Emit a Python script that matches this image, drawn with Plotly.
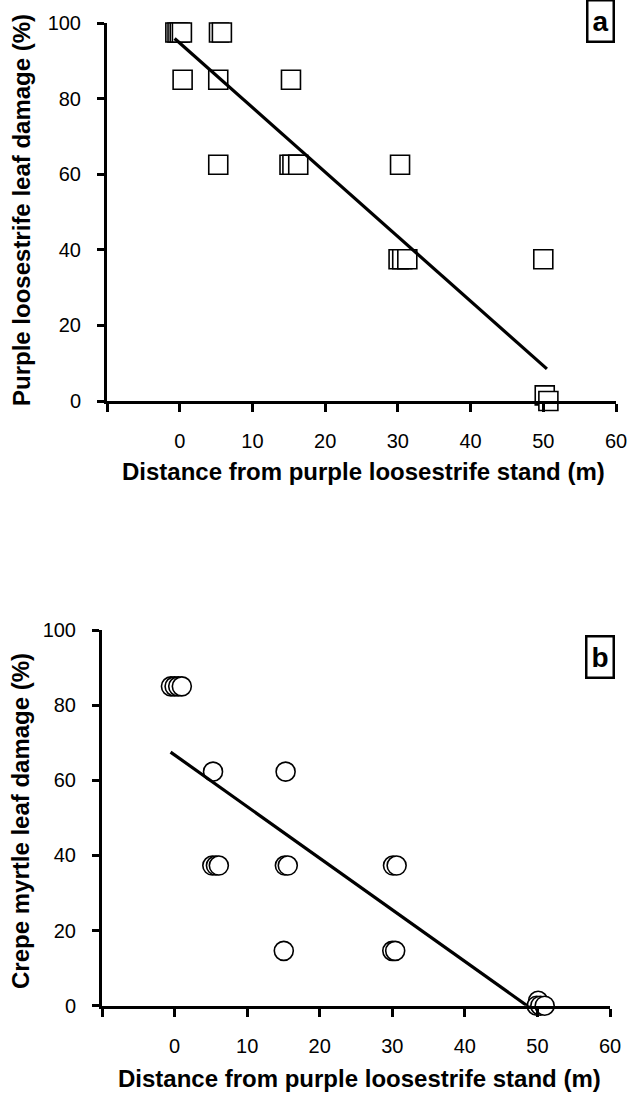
import plotly.graph_objects as go

# ---------------- data: panel a (purple loosestrife) ----------------
a_x = [-0.6, -0.3, 0.0, 0.3, 5.4, 5.8,
       0.4, 5.3, 15.3,
       5.3, 15.1, 15.5, 16.3, 30.3,
       30.1, 30.6, 31.3, 50.0,
       50.2, 50.7]
a_y = [97.5, 97.5, 97.5, 97.5, 97.5, 97.5,
       85, 85, 85,
       62.5, 62.5, 62.5, 62.5, 62.5,
       37.5, 37.5, 37.5, 37.5,
       1.5, 0.0]
a_fit_x = [-0.7, 50.5]
a_fit_y = [95.9, 8.5]

# ---------------- data: panel b (crepe myrtle) ----------------
b_x = [-0.5, 0.0, 0.5, 1.0,
       5.3, 15.3,
       5.2, 5.7, 6.1, 15.2, 15.6, 30.1, 30.6,
       15.05, 30.0, 30.4,
       50.1, 49.9, 50.4, 51.0]
b_y = [85, 85, 85, 85,
       62.3, 62.3,
       37.3, 37.3, 37.3, 37.3, 37.3, 37.3, 37.3,
       14.6, 14.6, 14.6,
       1.3, 0.0, 0.0, 0.0]
b_fit_x = [-0.55, 49.3]
b_fit_y = [67.5, -1.0]

x_ticks = [-10, 0, 10, 20, 30, 40, 50, 60]
x_ticktext = ["", "0", "10", "20", "30", "40", "50", "60"]
y_ticks = [0, 20, 40, 60, 80, 100]

a_ytitle = "Purple loosestrife leaf damage (%)"
b_ytitle = "Crepe myrtle leaf damage (%)"
xtitle = "Distance from purple loosestrife stand (m)"

W, H = 642, 1099
FONT = "Liberation Sans, Arial, sans-serif"

fig = go.Figure()

fig.add_trace(go.Scatter(x=a_x, y=a_y, mode="markers", cliponaxis=False,
                         marker=dict(symbol="square", size=19, color="white",
                                     line=dict(color="black", width=1.6)),
                         xaxis="x", yaxis="y", showlegend=False))
fig.add_trace(go.Scatter(x=a_fit_x, y=a_fit_y, mode="lines", cliponaxis=False,
                         line=dict(color="black", width=3.2),
                         xaxis="x", yaxis="y", showlegend=False))

fig.add_trace(go.Scatter(x=b_x, y=b_y, mode="markers", cliponaxis=False,
                         marker=dict(symbol="circle", size=19, color="white",
                                     line=dict(color="black", width=1.6)),
                         xaxis="x2", yaxis="y2", showlegend=False))
fig.add_trace(go.Scatter(x=b_fit_x, y=b_fit_y, mode="lines", cliponaxis=False,
                         line=dict(color="black", width=3.2),
                         xaxis="x2", yaxis="y2", showlegend=False))

def py(p):
    return 1 - p / H

xcommon = dict(range=[-10, 60], tickvals=x_ticks, ticktext=x_ticktext,
               showline=True, linecolor="black", linewidth=3,
               ticks="outside", ticklen=8, tickwidth=2.5, tickcolor="black",
               showgrid=False, zeroline=False, ticklabelstandoff=12,
               automargin=False,
               tickfont=dict(family=FONT, size=20, color="black"))
ycommon = dict(range=[0, 100], tickvals=y_ticks,
               showline=True, linecolor="black", linewidth=3,
               ticks="outside", ticklen=7, tickwidth=2.5, tickcolor="black",
               showgrid=False, zeroline=False, ticklabelstandoff=12,
               automargin=False,
               tickfont=dict(family=FONT, size=20, color="black"))

fig.update_layout(
    width=W, height=H,
    margin=dict(l=0, r=0, t=0, b=0, pad=0, autoexpand=False),
    paper_bgcolor="white", plot_bgcolor="white",
    showlegend=False,
    xaxis=dict(domain=[107 / W, 616 / W], anchor="y", **xcommon),
    yaxis=dict(domain=[py(401), py(23)], anchor="x", **ycommon),
    xaxis2=dict(domain=[102 / W, 610 / W], anchor="y2", **xcommon),
    yaxis2=dict(domain=[py(1005.7), py(630)], anchor="x2", **ycommon),
)

tfont = dict(family=FONT, size=24, color="black")
anns = [
    dict(text="<b>%s</b>" % a_ytitle, x=22 / W, y=py(210), textangle=-90),
    dict(text="<b>%s</b>" % xtitle, x=363 / W, y=py(471)),
    dict(text="<b>%s</b>" % b_ytitle, x=20 / W, y=py(821), textangle=-90),
    dict(text="<b>%s</b>" % xtitle, x=359 / W, y=py(1078)),
]
for a in anns:
    fig.add_annotation(xref="paper", yref="paper", showarrow=False,
                       xanchor="center", yanchor="middle", font=tfont, **a)

boxfont = dict(family=FONT, size=28, color="black")
for lbl, cx, cy in [("a", 600, 21), ("b", 600, 657)]:
    fig.add_annotation(xref="paper", yref="paper", showarrow=False,
                       text="<b>%s</b>" % lbl, x=cx / W, y=py(cy),
                       xanchor="center", yanchor="middle", font=boxfont,
                       bordercolor="black", borderwidth=2.5, borderpad=4,
                       bgcolor="white")

fig.write_html("out.html")
